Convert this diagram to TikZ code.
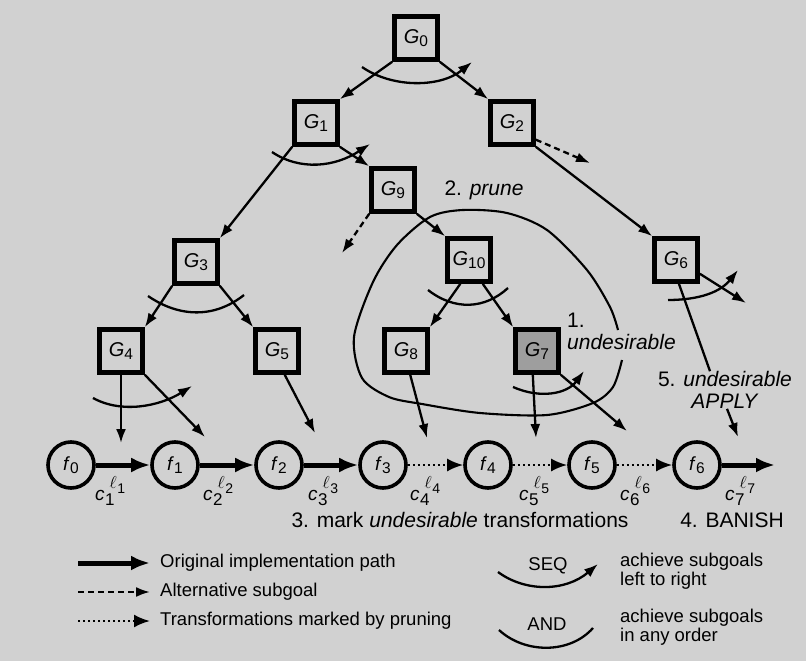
\documentclass[tikz,border=0pt]{standalone}
\usepackage{fontspec}
\setmainfont{Liberation Sans}
\usetikzlibrary{arrows.meta,calc}
\newcommand{\gl}[2]{\textit{#1}\raisebox{-0.3ex}{\fontsize{15.5}{15.5}\selectfont #2}}
\newcommand{\cl}[1]{\textit{c}\hspace{0.5pt}\rlap{\raisebox{-5pt}{\fontsize{17}{17}\selectfont #1}}\hspace{4.5pt}\raisebox{12pt}{\fontsize{17}{17}\selectfont$\ell$}\hspace{0.5pt}\raisebox{7pt}{\fontsize{14}{14}\selectfont #1}}
\begin{document}
\begin{tikzpicture}[x=1pt,y=-1pt,
  goal/.style={draw, line width=4.6pt, minimum size=43pt, inner sep=0pt, font=\fontsize{20}{20}\selectfont},
  fnode/.style={circle, draw, line width=3.6pt, minimum size=46pt, inner sep=0pt, font=\fontsize{19}{19}\selectfont},
  edge/.style={line width=2.3pt, -{Latex[length=14pt,width=10pt]}},
  altedge/.style={edge, dash pattern=on 6pt off 4pt},
  origpath/.style={line width=5pt, -{Latex[length=19pt,width=15pt]}},
  prunedpath/.style={line width=2.4pt, dash pattern=on 2pt off 3pt, -{Latex[length=16pt,width=13pt]}},
  seqarc/.style={line width=2.3pt, -{Latex[length=14pt,width=10pt]}},
  andarc/.style={line width=2.3pt},
  lbl/.style={font=\fontsize{21}{22}\selectfont, inner sep=0pt},
  leg/.style={font=\fontsize{18.5}{18.5}\selectfont, inner sep=0pt, anchor=west},
  clbl/.style={font=\fontsize{19}{19}\selectfont, inner sep=0pt, anchor=base west}
]
\useasboundingbox (0,0) rectangle (806,661);
\fill[black!18] (0,0) rectangle (806,661);

% goal nodes
\node[goal] (G0) at (416,38) {\gl{G}{0}};
\node[goal] (G1) at (316,123) {\gl{G}{1}};
\node[goal] (G2) at (512,123) {\gl{G}{2}};
\node[goal] (G9) at (393,190) {\gl{G}{9}};
\node[goal] (G3) at (196,262) {\gl{G}{3}};
\node[goal] (G10) at (469,260) {\gl{G}{10}};
\node[goal] (G6) at (676,260) {\gl{G}{6}};
\node[goal] (G4) at (121,351) {\gl{G}{4}};
\node[goal] (G5) at (277,351) {\gl{G}{5}};
\node[goal] (G8) at (406,351) {\gl{G}{8}};
\node[goal, fill=black!38] (G7) at (537,351) {\gl{G}{7}};

% state nodes
\node[fnode] (f0) at (71,465) {\gl{f}{0}};
\node[fnode] (f1) at (175,465) {\gl{f}{1}};
\node[fnode] (f2) at (279,465) {\gl{f}{2}};
\node[fnode] (f3) at (383,465) {\gl{f}{3}};
\node[fnode] (f4) at (488,465) {\gl{f}{4}};
\node[fnode] (f5) at (592,465) {\gl{f}{5}};
\node[fnode] (f6) at (697,465) {\gl{f}{6}};
\coordinate (fend) at (775,465);

% path
\draw[origpath] (f0) -- (f1);
\draw[origpath] (f1) -- (f2);
\draw[origpath] (f2) -- (f3);
\draw[prunedpath] (f3) -- (f4);
\draw[prunedpath] (f4) -- (f5);
\draw[prunedpath] (f5) -- (f6);
\draw[origpath] (f6) -- (fend);

% transformation labels
\node[clbl] (c1) at (95,500) {\cl{1}};
\node[clbl] (c2) at (203,500) {\cl{2}};
\node[clbl] (c3) at (308,500) {\cl{3}};
\node[clbl] (c4) at (410,500) {\cl{4}};
\node[clbl] (c5) at (519,500) {\cl{5}};
\node[clbl] (c6) at (620,500) {\cl{6}};
\node[clbl] (c7) at (725,500) {\cl{7}};

% tree edges
\draw[edge] (G0.south west) -- (G1.north east);
\draw[edge] (G0.south east) -- (G2.north west);
\draw[edge] (G1.south west) -- (G3.north east);
\draw[edge] (G1.south east) -- (G9.north west);
\draw[edge] (G2.south east) -- (G6.north west);
\draw[edge] (G9.south east) -- (G10.north west);
\draw[edge] (G3.south west) -- (G4.north east);
\draw[edge] (G3.south east) -- (G5.north west);
\draw[edge] (G10.-110) -- (G8.north east);
\draw[edge] (G10.-60) -- (G7.north west);

\coordinate (g2out) at (590,163);
\coordinate (g9out) at (342,253);
\coordinate (g6out) at (746,303);
\draw[altedge] (G2.-35) -- (g2out);
\draw[altedge] (G9.south west) -- (g9out);
\draw[edge] (G6.-30) -- (g6out);

% goals to transformations
\coordinate (t1) at (121,443);
\coordinate (t2) at (205,437);
\coordinate (t3) at (315,433);
\coordinate (t4) at (427,438);
\coordinate (t5) at (536,438);
\coordinate (t6) at (627,431);
\coordinate (t7) at (738,437);
\draw[edge] (G4.south) -- (t1);
\draw[edge] (G4.south east) -- (t2);
\draw[edge] (G5.-72) -- (t3);
\draw[edge] (G8.-80) -- (t4);
\draw[edge] (G7.-100) -- (t5);
\draw[edge] (G7.south east) -- (t6);

% SEQ / AND arcs
\draw[seqarc] (362,67) .. controls (392,88) and (440,88) .. (472,62);
\draw[seqarc] (272,152) .. controls (300,171) and (335,167) .. (370,144);
\draw[andarc] (148,296) .. controls (180,318) and (215,318) .. (244,295);
\draw[seqarc] (93,398) .. controls (122,414) and (160,406) .. (192,386);
\draw[andarc] (428,290) .. controls (455,311) and (485,309) .. (508,288);
\draw[seqarc] (513,387) .. controls (540,399) and (567,394) .. (584,371);
\draw[seqarc] (668,300) .. controls (692,300) and (718,295) .. (738,270);

% prune curve
\draw[line width=2.1pt] plot[smooth] coordinates {(618,330) (610,307) (587,270) (547,230) (507,213) (463,210) (430,217) (397,245) (373,282) (354,337) (362,378) (389,397) (422,404) (480,413) (547,415) (593,403) (613,387) (622,360)};

% annotations
\node[lbl] (prune) at (484,190) {2. \textit{prune}};
\node[lbl, align=left, anchor=north west] (undes) at (567,313) {1.\\\textit{undesirable}};
\node[lbl, align=center] (lab5) at (725,390) {5. \textit{undesirable}\\\textit{APPLY}};
\draw[line width=2.3pt] (G6.-83) -- (lab5.north -| 710,0);
\draw[edge] (lab5.south -| 727,0) -- (t7);
\node[lbl] (mark) at (460,520) {3. mark \textit{undesirable} transformations};
\node[lbl] (banish) at (732,520) {4. BANISH};

% legend
\coordinate (l1a) at (78,563); \coordinate (l1b) at (150,563);
\coordinate (l2a) at (78,592); \coordinate (l2b) at (150,592);
\coordinate (l3a) at (78,621); \coordinate (l3b) at (150,621);
\draw[origpath] (l1a) -- (l1b);
\draw[altedge] (l2a) -- (l2b);
\draw[prunedpath] (l3a) -- (l3b);
\node[leg] (leg1) at (160,563) {Original implementation path};
\node[leg] (leg2) at (160,592) {Alternative subgoal};
\node[leg] (leg3) at (160,621) {Transformations marked by pruning};

\draw[seqarc] (498,572) .. controls (525,592) and (565,592) .. (598,564);
\node[leg, anchor=center] (seq) at (548,566) {SEQ};
\node[leg, align=left] (seqt) at (620,571) {achieve subgoals\\left to right};
\draw[andarc] (499,630) .. controls (525,654) and (570,654) .. (593,628);
\node[leg, anchor=center] (and) at (547,624) {AND};
\node[leg, align=left] (andt) at (620,627) {achieve subgoals\\in any order};
\end{tikzpicture}
\end{document}
